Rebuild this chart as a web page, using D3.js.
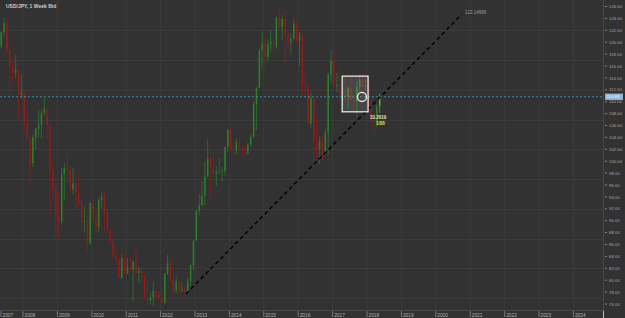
<!DOCTYPE html>
<html>
<head>
<meta charset="utf-8">
<script src="https://cdn.jsdelivr.net/npm/d3@7"></script>
<style>
  body { margin: 0; background: #323232; }
  svg { display: block; font-family: "Liberation Sans", "DejaVu Sans", sans-serif; }
</style>
</head>
<body>
<div id="chart"></div>
<script>
// monthly candles, May 2007 .. May 2018
const firstMonth = "2007-05";
const opens = [
  119.4,121.7,123.2,118.6,115.8,114.9,115.4,111.2,
  111.7,106.4,103.7,99.7,104.0,105.5,106.2,108.1,108.8,106.0,98.4,95.4,
  90.6,89.9,97.9,98.9,98.6,95.3,96.3,94.7,93.0,89.8,90.0,86.2,
  93.0,90.3,89.0,93.5,94.0,91.2,88.4,86.5,84.2,83.5,80.4,83.7,
  81.1,82.1,81.8,83.1,81.2,81.5,80.6,77.0,76.6,77.1,78.2,77.6,
  77.0,76.2,81.1,82.9,80.0,78.3,79.8,78.1,78.4,77.9,79.8,82.5,
  86.7,91.7,92.6,94.2,97.4,100.5,99.1,97.9,98.2,98.3,98.4,102.4,
  105.3,102.0,101.8,103.2,102.2,101.8,101.3,102.8,104.1,109.6,112.3,118.6,
  119.8,117.5,119.6,120.1,119.4,124.1,122.5,123.9,121.2,119.9,120.6,123.1,
  120.2,121.1,112.7,112.6,106.3,110.7,103.2,102.1,103.4,101.3,104.8,114.5,
  116.9,112.8,112.8,111.4,111.5,110.8,112.4,110.3,110.0,112.5,113.7,112.5,
  112.7,109.2,106.7,106.3,109.3
];
const highs = [
  121.9,124.1,123.7,119.8,116.8,117.9,115.6,114.6,
  111.8,108.9,104.0,104.6,105.5,108.6,108.6,110.7,109.0,106.0,99.6,96.4,
  94.6,98.9,99.7,101.4,99.2,98.9,96.5,97.8,93.4,92.3,91.7,93.1,
  93.7,92.1,93.8,94.8,94.9,92.3,88.7,86.6,85.9,83.7,84.5,84.5,
  83.7,84.0,83.3,85.5,82.2,81.8,81.0,80.2,77.9,79.6,78.3,78.2,
  77.8,81.2,84.2,83.3,80.6,80.6,79.9,79.6,78.9,80.5,82.8,86.6,
  91.7,94.5,96.7,99.9,103.7,100.9,101.5,99.2,100.6,99.0,102.4,105.4,
  105.4,102.8,103.8,104.1,102.7,102.8,103.1,104.5,110.1,112.5,118.9,121.8,
  120.8,120.5,122.0,120.8,124.5,125.9,124.6,125.3,121.8,121.5,123.8,123.7,
  121.7,121.5,114.9,112.6,111.5,110.7,107.5,104.3,104.3,105.5,114.8,118.7,
  118.6,114.9,115.5,112.2,114.4,112.5,114.5,111.1,113.3,114.5,114.7,113.8,
  113.4,110.5,107.3,109.6,111.4
];
const lows = [
  118.9,121.0,118.2,111.6,113.3,114.0,107.2,110.6,
  104.9,103.7,95.7,99.0,102.0,104.0,103.8,107.6,103.5,90.9,93.4,87.1,
  87.1,89.3,93.5,96.3,94.4,94.4,91.7,92.3,88.2,88.0,84.8,86.0,
  89.8,88.1,88.1,92.0,88.0,88.4,86.2,83.6,82.9,80.4,80.2,81.1,
  81.0,81.5,76.3,81.3,79.6,79.7,76.8,75.9,75.9,75.6,76.6,76.9,
  76.1,76.0,80.9,79.8,78.0,77.7,77.9,78.1,77.1,77.9,79.0,81.7,
  86.6,90.9,92.5,92.6,97.3,93.8,97.6,95.8,97.8,96.6,97.6,101.6,
  101.8,100.8,101.2,101.4,100.8,101.1,101.1,102.4,103.8,105.2,112.3,115.6,
  115.9,116.9,118.3,118.5,118.9,122.0,120.4,116.2,118.6,118.1,120.3,119.9,
  115.9,110.9,110.7,106.2,105.5,99.0,100.7,99.5,100.1,101.2,101.2,113.1,
  112.5,111.6,110.1,108.1,110.2,108.8,110.0,108.3,107.3,111.7,110.8,111.9,
  108.3,105.6,104.6,105.7,108.1
];
const closes = [
  121.7,123.2,118.6,115.8,114.9,115.4,111.2,111.7,
  106.4,103.7,99.7,104.0,105.5,106.2,108.1,108.8,106.0,98.4,95.4,90.6,
  89.9,97.9,98.9,98.6,95.3,96.3,94.7,93.0,89.8,90.0,86.2,93.0,
  90.3,89.0,93.5,94.0,91.2,88.4,86.5,84.2,83.5,80.4,83.7,81.1,
  82.1,81.8,83.1,81.2,81.5,80.6,77.0,76.6,77.1,78.2,77.6,77.0,
  76.2,81.1,82.9,80.0,78.3,79.8,78.1,78.4,77.9,79.8,82.5,86.7,
  91.7,92.6,94.2,97.4,100.5,99.1,97.9,98.2,98.3,98.4,102.4,105.3,
  102.0,101.8,103.2,102.2,101.8,101.3,102.8,104.1,109.6,112.3,118.6,119.8,
  117.5,119.6,120.1,119.4,124.1,122.5,123.9,121.2,119.9,120.6,123.1,120.2,
  121.1,112.7,112.6,106.3,110.7,103.2,102.1,103.4,101.3,104.8,114.5,116.9,
  112.8,112.8,111.4,111.5,110.8,112.4,110.3,110.0,112.5,113.7,112.5,112.7,
  109.2,106.7,106.3,109.3,110.8
];

const yearTicks = [2007,2008,2009,2010,2011,2012,2013,2014,2015,2016,2017,2018,2019,2020,2021,2022,2023,2024];
const priceTicks = d3.range(76, 127, 2);
const gridPrices = [122, 117, 112, 107, 102, 97, 92, 87, 82, 77];

const lastPrice = 110.83;
const trendStart = { date: "2012-09-27", value: 77.7 };
const trendEnd = { date: "2020-10-05", value: 124.7 };
const trendLabel = "122.14686";
const boxFrom = { date: "2017-04-12", value: 114.3 };
const boxTo = { date: "2018-01-12", value: 108.3 };
const circlePoint = { date: "2017-11-08", value: 110.8 };
const noteLines = ["33.2619", "1/88"];

const W = 625, H = 318;
const plotRight = 603, plotBottom = 310;
const parse = d3.timeParse("%Y-%m-%d");
const upColor = "#2c7f2c", downColor = "#931c1c", lastColor = "#3fbf3f";

const x = d3.scaleTime()
  .domain([new Date(2007, 0, 1), new Date(2024, 0, 1)])
  .range([-11.4, 573.4]);
const y = d3.scaleLinear()
  .domain([76, 126])
  .range([304, 6.5]);

const start = d3.timeParse("%Y-%m")(firstMonth);
const candles = closes.map((c, i) => ({
  date: d3.timeDay.offset(d3.timeMonth.offset(start, i), 14),
  o: opens[i], h: highs[i], l: lows[i], c: c
}));
const candleColor = (d, i) => i === candles.length - 1 ? lastColor : (d.c >= d.o ? upColor : downColor);

const svg = d3.select("#chart").append("svg")
  .attr("width", W).attr("height", H);

svg.append("rect").attr("width", W).attr("height", H).attr("fill", "#323232");

svg.append("defs").append("clipPath").attr("id", "plot")
  .append("rect").attr("width", plotRight).attr("height", plotBottom);

// grid
const grid = svg.append("g").attr("clip-path", "url(#plot)");
grid.selectAll(".vg").data(yearTicks).enter().append("line")
  .attr("x1", d => x(new Date(d, 0, 1))).attr("x2", d => x(new Date(d, 0, 1)))
  .attr("y1", 0).attr("y2", plotBottom)
  .attr("stroke", "#3b3b3b").attr("stroke-width", 1);
grid.selectAll(".hg").data(gridPrices).enter().append("line")
  .attr("x1", 0).attr("x2", plotRight)
  .attr("y1", d => Math.round(y(d)) + 0.5).attr("y2", d => Math.round(y(d)) + 0.5)
  .attr("stroke", "#3b3b3b").attr("stroke-width", 1);

// candles
const cg = svg.append("g").attr("clip-path", "url(#plot)");
cg.selectAll(".wick").data(candles).enter().append("line")
  .attr("x1", d => x(d.date)).attr("x2", d => x(d.date))
  .attr("y1", d => y(d.h)).attr("y2", d => y(d.l))
  .attr("stroke", candleColor)
  .attr("stroke-width", 0.7);
cg.selectAll(".body").data(candles).enter().append("rect")
  .attr("x", d => x(d.date) - 0.75)
  .attr("width", 1.5)
  .attr("y", d => y(Math.max(d.o, d.c)))
  .attr("height", d => Math.max(0.8, Math.abs(y(d.o) - y(d.c))))
  .attr("fill", candleColor);

// last price line
svg.append("line")
  .attr("x1", 0).attr("x2", plotRight)
  .attr("y1", y(lastPrice)).attr("y2", y(lastPrice))
  .attr("stroke", "#3aa7b3").attr("stroke-width", 0.8)
  .attr("stroke-dasharray", "2,2");

// trend line
svg.append("line")
  .attr("x1", x(parse(trendStart.date))).attr("y1", y(trendStart.value))
  .attr("x2", x(parse(trendEnd.date))).attr("y2", y(trendEnd.value))
  .attr("stroke", "#000").attr("stroke-width", 1.4)
  .attr("stroke-dasharray", "4,3");
svg.append("text")
  .attr("x", x(parse(trendEnd.date)) + 3).attr("y", y(trendEnd.value) - 0.5)
  .attr("font-size", 4.5).attr("fill", "#9a9a9a")
  .text(trendLabel);

// box and circle
svg.append("rect")
  .attr("x", x(parse(boxFrom.date))).attr("y", y(boxFrom.value))
  .attr("width", x(parse(boxTo.date)) - x(parse(boxFrom.date)))
  .attr("height", y(boxTo.value) - y(boxFrom.value))
  .attr("fill", "rgba(255,255,255,0.1)")
  .attr("stroke", "#f2f2f2").attr("stroke-width", 1.2);
svg.append("circle")
  .attr("cx", x(parse(circlePoint.date))).attr("cy", y(circlePoint.value))
  .attr("r", 4.5).attr("fill", "none")
  .attr("stroke", "#f2f2f2").attr("stroke-width", 1.3);

// notes below the box
svg.append("text")
  .attr("x", x(parse(boxTo.date)) + 2).attr("y", y(boxTo.value) + 7)
  .attr("font-size", 4.5).attr("fill", "#e6e6b0").attr("font-weight", "bold")
  .text(noteLines[0]);
svg.append("text")
  .attr("x", x(parse(boxTo.date)) + 8).attr("y", y(boxTo.value) + 13)
  .attr("font-size", 4.5).attr("fill", "#e0d840").attr("font-weight", "bold")
  .text(noteLines[1]);

// title
svg.append("text")
  .attr("x", 6).attr("y", 8)
  .attr("font-size", 5).attr("fill", "#cfcfcf").attr("font-weight", "bold")
  .text("USD/JPY, 1 Week Bid");

// right axis
svg.append("line")
  .attr("x1", plotRight + 0.5).attr("x2", plotRight + 0.5)
  .attr("y1", 0).attr("y2", H)
  .attr("stroke", "#4a4a4a");
const ra = svg.append("g");
ra.selectAll(".tk").data(priceTicks).enter().append("line")
  .attr("x1", 605).attr("x2", 607)
  .attr("y1", d => y(d)).attr("y2", d => y(d))
  .attr("stroke", "#9a9a9a").attr("stroke-width", 0.8);
ra.selectAll(".tl").data(priceTicks).enter().append("text")
  .attr("x", 609).attr("y", d => y(d) + 1.6)
  .attr("font-size", 4.3).attr("fill", "#a8a8a8")
  .text(d => d.toFixed(2));

// last price label
svg.append("rect")
  .attr("x", 605).attr("y", y(lastPrice) - 3.2)
  .attr("width", 18).attr("height", 6.4)
  .attr("fill", "#8fb4dc");
svg.append("text")
  .attr("x", 606.5).attr("y", y(lastPrice) + 1.7)
  .attr("font-size", 4.3).attr("fill", "#ffffff")
  .text(lastPrice.toFixed(2));

// bottom axis
svg.append("line")
  .attr("x1", 0).attr("x2", plotRight)
  .attr("y1", plotBottom + 0.5).attr("y2", plotBottom + 0.5)
  .attr("stroke", "#4a4a4a");
const ba = svg.append("g");
ba.selectAll(".bt").data(yearTicks).enter().append("line")
  .attr("x1", d => Math.max(1, x(new Date(d, 0, 1)))).attr("x2", d => Math.max(1, x(new Date(d, 0, 1))))
  .attr("y1", 311).attr("y2", 317)
  .attr("stroke", "#9a9a9a").attr("stroke-width", 0.7);
ba.selectAll(".bl").data(yearTicks).enter().append("text")
  .attr("x", d => Math.max(1, x(new Date(d, 0, 1))) + 1.5).attr("y", 316.5)
  .attr("font-size", 4.8).attr("fill", "#b0b0b0")
  .text(d => d);
svg.append("line")
  .attr("x1", plotRight + 0.5).attr("x2", plotRight + 0.5)
  .attr("y1", 311).attr("y2", 318)
  .attr("stroke", "#bbbbbb");
</script>
</body>
</html>
